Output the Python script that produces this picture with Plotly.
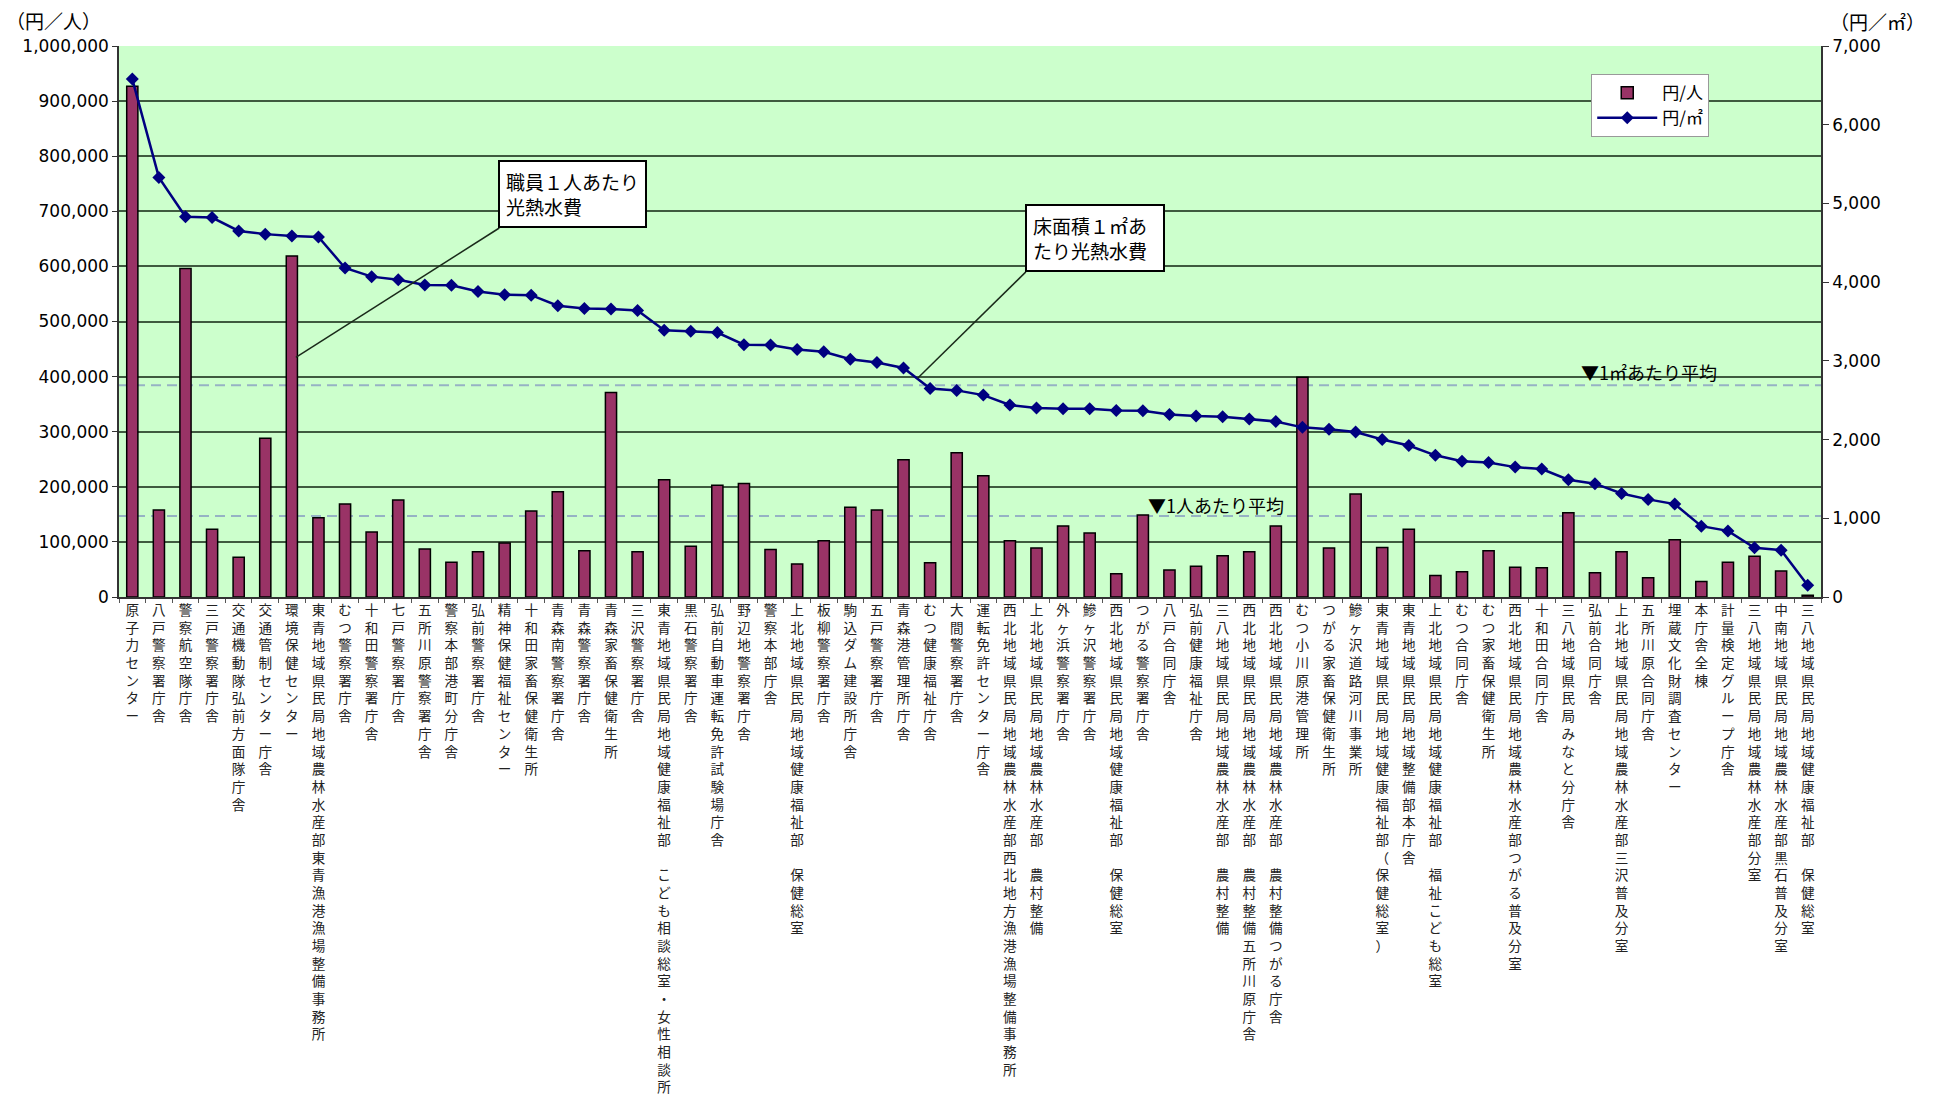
import plotly.graph_objects as go

categories = [
    "原子力センター", "八戸警察署庁舎", "警察航空隊庁舎", "三戸警察署庁舎",
    "交通機動隊弘前方面隊庁舎", "交通管制センター庁舎", "環境保健センター",
    "東青地域県民局地域農林水産部東青漁港漁場整備事務所", "むつ警察署庁舎",
    "十和田警察署庁舎", "七戸警察署庁舎", "五所川原警察署庁舎", "警察本部港町分庁舎",
    "弘前警察署庁舎", "精神保健福祉センター", "十和田家畜保健衛生所", "青森南警察署庁舎",
    "青森警察署庁舎", "青森家畜保健衛生所", "三沢警察署庁舎",
    "東青地域県民局地域健康福祉部　こども相談総室・女性相談所", "黒石警察署庁舎",
    "弘前自動車運転免許試験場庁舎", "野辺地警察署庁舎", "警察本部庁舎",
    "上北地域県民局地域健康福祉部　保健総室", "板柳警察署庁舎", "駒込ダム建設所庁舎",
    "五戸警察署庁舎", "青森港管理所庁舎", "むつ健康福祉庁舎", "大間警察署庁舎",
    "運転免許センター庁舎", "西北地域県民局地域農林水産部西北地方漁港漁場整備事務所",
    "上北地域県民局地域農林水産部　農村整備", "外ヶ浜警察署庁舎", "鰺ヶ沢警察署庁舎",
    "西北地域県民局地域健康福祉部　保健総室", "つがる警察署庁舎", "八戸合同庁舎",
    "弘前健康福祉庁舎", "三八地域県民局地域農林水産部　農村整備",
    "西北地域県民局地域農林水産部　農村整備五所川原庁舎",
    "西北地域県民局地域農林水産部　農村整備つがる庁舎", "むつ小川原港管理所",
    "つがる家畜保健衛生所", "鰺ヶ沢道路河川事業所",
    "東青地域県民局地域健康福祉部（保健総室）", "東青地域県民局地域整備部本庁舎",
    "上北地域県民局地域健康福祉部　福祉こども総室", "むつ合同庁舎", "むつ家畜保健衛生所",
    "西北地域県民局地域農林水産部つがる普及分室", "十和田合同庁舎",
    "三八地域県民局みなと分庁舎", "弘前合同庁舎",
    "上北地域県民局地域農林水産部三沢普及分室", "五所川原合同庁舎",
    "埋蔵文化財調査センター", "本庁舎全棟", "計量検定グループ庁舎",
    "三八地域県民局地域農林水産部分室", "中南地域県民局地域農林水産部黒石普及分室",
    "三八地域県民局地域健康福祉部　保健総室",
]

yen_per_person = [
    927000, 158000, 596000, 123000, 72000, 288000, 619000, 144000, 169000, 118000,
    176000, 87000, 63000, 82000, 98000, 156000, 191000, 84000, 371000, 82000,
    213000, 92000, 203000, 206000, 86000, 60000, 102000, 163000, 158000, 249000,
    62000, 262000, 220000, 102000, 89000, 129000, 116000, 42000, 149000, 49000,
    56000, 75000, 82000, 129000, 399000, 89000, 187000, 90000, 123000, 39000,
    46000, 84000, 54000, 53000, 153000, 44000, 82000, 35000, 104000, 28000,
    63000, 74000, 47000, 3000,
]

yen_per_m2 = [
    6580, 5330, 4830, 4820, 4650, 4610, 4585, 4575, 4180, 4070,
    4030, 3965, 3960, 3880, 3840, 3835, 3700, 3665, 3660, 3640,
    3390, 3375, 3360, 3205, 3200, 3145, 3115, 3020, 2980, 2910,
    2650, 2625, 2565, 2440, 2400, 2390, 2390, 2370, 2365, 2320,
    2300, 2290, 2260, 2230, 2155, 2130, 2095, 2000, 1925, 1800,
    1725, 1710, 1650, 1625, 1490, 1440, 1315, 1240, 1180, 900,
    840, 625, 595, 150,
]

avg_per_person = 147000
avg_per_m2 = 2690

left_ticks = list(range(0, 1000001, 100000))
right_ticks = list(range(0, 7001, 1000))

JP = "Noto Sans CJK JP"
NUM = "DejaVu Sans"

stacked = ["<br>".join(list(c)) for c in categories]

fig = go.Figure()
fig.add_trace(go.Bar(
    x=categories, y=yen_per_person, name="円/人",
    marker=dict(color="#993366", line=dict(color="#000000", width=1.5)),
    width=0.42, yaxis="y",
))
fig.add_trace(go.Scatter(
    x=categories, y=yen_per_m2, name="円/㎡", mode="lines+markers",
    line=dict(color="#000080", width=2.5),
    marker=dict(symbol="diamond", size=10, color="#000080"),
    yaxis="y2",
))

fig.update_layout(
    width=1943, height=1104,
    margin=dict(l=119, r=122, t=46, b=507),
    paper_bgcolor="#ffffff", plot_bgcolor="#ccffcc",
    template="none",
    showlegend=True,
    legend=dict(
        x=0.865, y=0.949, xanchor="left", yanchor="top",
        bgcolor="#ffffff", bordercolor="#999999", borderwidth=1,
        font=dict(family=JP, size=17, color="#000000"),
        itemwidth=60,
    ),
    xaxis=dict(
        type="category", range=[-0.5, len(categories) - 0.5],
        tickvals=categories, ticktext=stacked, tickangle=0,
        tickfont=dict(family=JP, size=13.6, color="#222222"),
        showgrid=False, showline=True, linecolor="#333333", linewidth=1.5,
        ticks="outside", tickson="boundaries", ticklen=4, tickcolor="#555555",
        automargin=False, zeroline=False,
    ),
    yaxis=dict(
        range=[0, 1000000], tickvals=left_ticks, tickformat=",",
        tickfont=dict(family=NUM, size=17, color="#000000"),
        showgrid=True, gridcolor="#3f5a3f", gridwidth=1.5,
        showline=True, linecolor="#333333", linewidth=1.5,
        ticks="outside", ticklen=5, tickcolor="#333333",
        automargin=False, zeroline=False,
    ),
    yaxis2=dict(
        range=[0, 7000], tickvals=right_ticks, tickformat=",",
        overlaying="y", side="right",
        tickfont=dict(family=NUM, size=17, color="#000000"),
        showgrid=False, showline=True, linecolor="#333333", linewidth=1.5,
        ticks="outside", ticklen=6, tickcolor="#333333",
        automargin=False, zeroline=False,
    ),
)

# average lines
fig.add_shape(type="line", xref="paper", x0=0, x1=1, yref="y",
              y0=avg_per_person, y1=avg_per_person, layer="between",
              line=dict(color="#96b2c4", width=2, dash="10px,6px"))
fig.add_shape(type="line", xref="paper", x0=0, x1=1, yref="y2",
              y0=avg_per_m2, y1=avg_per_m2, layer="between",
              line=dict(color="#96b2c4", width=2, dash="10px,6px"))

fig.add_annotation(x=38.1, y=avg_per_person, xref="x", yref="y",
                   text="▼1人あたり平均", showarrow=False,
                   xanchor="left", yanchor="bottom", yshift=-4,
                   font=dict(family=JP, size=18, color="#000000"))
fig.add_annotation(x=54.4, y=avg_per_m2, xref="x", yref="y2",
                   text="▼1㎡あたり平均", showarrow=False,
                   xanchor="left", yanchor="bottom", yshift=-2,
                   font=dict(family=JP, size=18, color="#000000"))

# callouts
fig.add_shape(type="line", xref="x", yref="y", x0=6.15, y0=435000,
              x1=13.8, y1=669700, layer="above",
              line=dict(color="#1a2a1a", width=1.5))
fig.add_annotation(x=13.77, y=669700, xref="x", yref="y",
                   text="職員１人あたり<br>光熱水費", showarrow=False,
                   xanchor="left", yanchor="bottom", align="left",
                   bgcolor="#ffffff", bordercolor="#000000", borderwidth=2,
                   borderpad=6, font=dict(family=JP, size=19, color="#000000"))

fig.add_shape(type="line", xref="x", yref="y2", x0=29.53, y0=2780,
              x1=33.6, y1=4130, layer="above",
              line=dict(color="#1a2a1a", width=1.5))
fig.add_annotation(x=33.55, y=4130, xref="x", yref="y2",
                   text="床面積１㎡あ<br>たり光熱水費", showarrow=False,
                   xanchor="left", yanchor="bottom", align="left",
                   bgcolor="#ffffff", bordercolor="#000000", borderwidth=2,
                   borderpad=6, width=124,
                   font=dict(family=JP, size=19, color="#000000"))

# axis unit labels
fig.add_annotation(x=-0.0382, y=1.047, xref="paper", yref="paper",
                   text="（円／人）", showarrow=False, xanchor="center", yanchor="middle",
                   font=dict(family=JP, size=19, color="#000000"))
fig.add_annotation(x=1.033, y=1.045, xref="paper", yref="paper",
                   text="（円／㎡）", showarrow=False, xanchor="center", yanchor="middle",
                   font=dict(family=JP, size=19, color="#000000"))

fig.write_html("out.html", config={"displayModeBar": False})
